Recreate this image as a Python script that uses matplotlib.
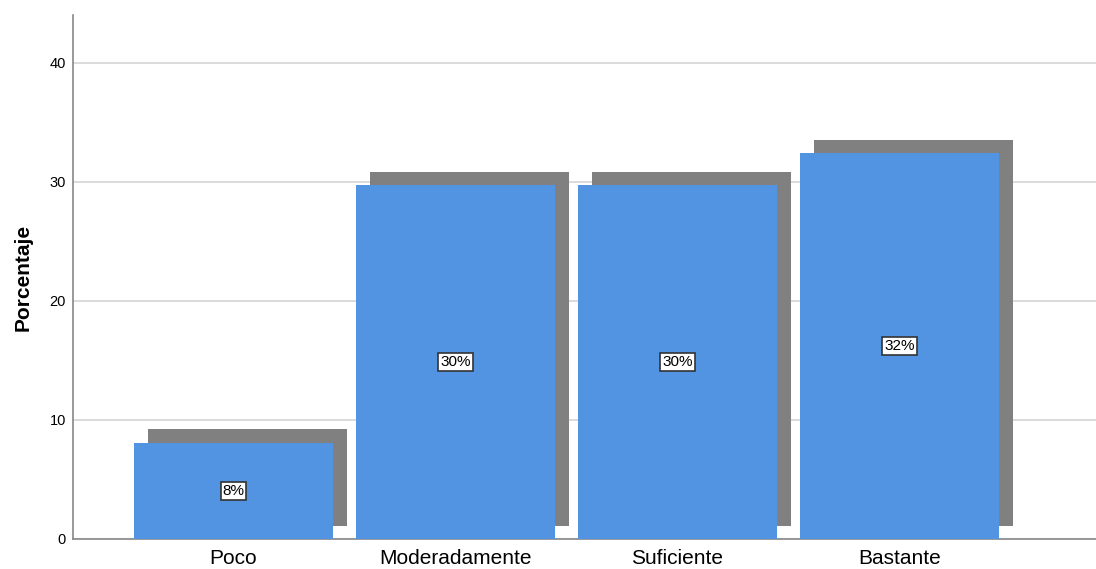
import matplotlib.pyplot as plt
import matplotlib.patheffects as pe

plt.rcParams["font.family"] = ["Liberation Sans", "DejaVu Sans"]

# datos
categorias = ["Poco", "Moderadamente", "Suficiente", "Bastante"]
porcentajes = [8.1, 29.7, 29.7, 32.4]
etiquetas = ["8%", "30%", "30%", "32%"]
ticks_y = [0, 10, 20, 30, 40]

fig = plt.figure(figsize=(10.96, 5.69), dpi=100)
ax = fig.add_axes([73 / 1096, 30 / 569, 1 - 73 / 1096, 524 / 569])

x = range(len(categorias))
sombra = [pe.SimplePatchShadow(offset=(10, 9.5), shadow_rgbFace="#808080", alpha=1.0), pe.Normal()]
barras = ax.bar(x, porcentajes, width=0.896, color="#5294E2", zorder=3)
for b in barras:
    b.set_path_effects(sombra)

# etiquetas en las barras
for xi, v, txt in zip(x, porcentajes, etiquetas):
    ax.text(xi, v / 2, txt, ha="center", va="center", fontsize=11, zorder=5,
            bbox=dict(boxstyle="square,pad=0.12", fc="white", ec="#333333", lw=1.2))

ax.set_xlim(-0.723, 3.885)
ax.set_ylim(0, 44)
ax.set_yticks(ticks_y)
ax.set_xticks(list(x))
ax.set_xticklabels(categorias, fontsize=15)
ax.tick_params(axis="y", labelsize=10.5, length=0, pad=5)
ax.tick_params(axis="x", length=0, pad=7)
ax.set_ylabel("Porcentaje", fontsize=15, fontweight="bold", labelpad=12)

ax.grid(axis="y", color="#d4d4d4", lw=1.2, zorder=0)
for s in ["top", "right"]:
    ax.spines[s].set_visible(False)
for s in ["left", "bottom"]:
    ax.spines[s].set_color("#888888")
    ax.spines[s].set_linewidth(1.2)

fig.savefig("out.png", dpi=100)
